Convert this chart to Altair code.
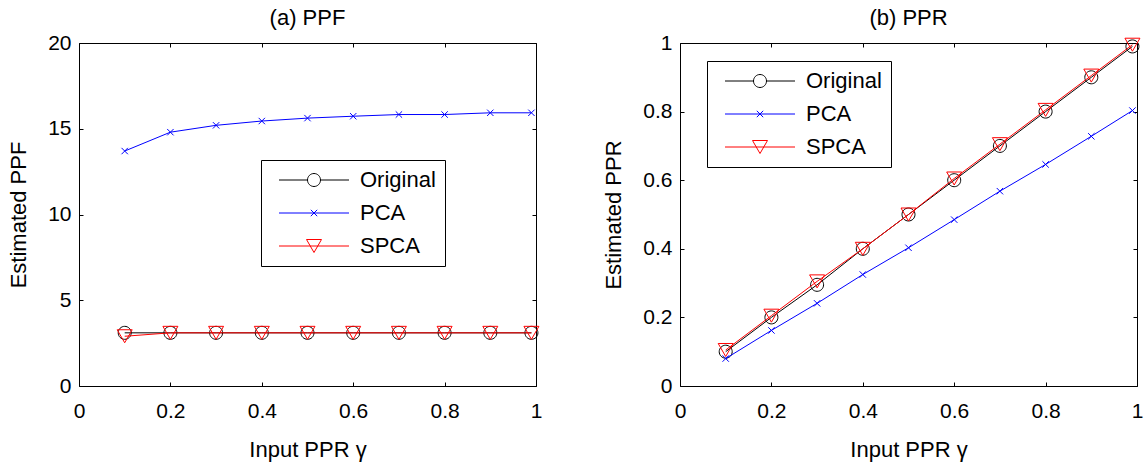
import altair as alt
import pandas as pd

FONT = "Liberation Sans"

x_input = [0.1, 0.2, 0.3, 0.4, 0.5, 0.6, 0.7, 0.8, 0.9, 0.99]
series_names = ["Original", "PCA", "SPCA"]
series_colors = ["#000000", "#0000FF", "#FF0000"]

# (a) PPF
ppf_original = [3.1, 3.1, 3.1, 3.1, 3.1, 3.1, 3.1, 3.1, 3.1, 3.1]
ppf_pca = [13.7, 14.8, 15.2, 15.45, 15.62, 15.73, 15.83, 15.83, 15.93, 15.93]
ppf_spca = [2.9, 3.1, 3.1, 3.1, 3.1, 3.1, 3.1, 3.1, 3.1, 3.1]

# (b) PPR
ppr_original = [0.10, 0.20, 0.295, 0.40, 0.50, 0.60, 0.70, 0.80, 0.90, 0.99]
ppr_pca = [0.08, 0.162, 0.241, 0.325, 0.403, 0.485, 0.568, 0.646, 0.728, 0.803]
ppr_spca = [0.105, 0.205, 0.305, 0.40, 0.50, 0.605, 0.705, 0.805, 0.905, 0.995]

x_ticks = [0, 0.2, 0.4, 0.6, 0.8, 1]
ppf_ticks = [0, 5, 10, 15, 20]
ppr_ticks = [0, 0.2, 0.4, 0.6, 0.8, 1]

# marker glyphs (unit = 10 px at size 400)
circle_path = "M-0.65,0A0.65,0.65,0,1,1,0.65,0A0.65,0.65,0,1,1,-0.65,0Z"
cross_path = "M-0.32,-0.32L0.32,0.32M-0.32,0.32L0.32,-0.32"
tri_path = "M0,0.65L0.75,-0.65L-0.75,-0.65Z"
marker_paths = [circle_path, cross_path, tri_path]

legend_paths = [
    "M-3.5,0L-0.65,0M-0.65,0A0.65,0.65,0,1,1,0.65,0A0.65,0.65,0,1,1,-0.65,0M0.65,0L3.5,0",
    "M-3.5,0L3.5,0M-0.32,-0.32L0.32,0.32M-0.32,0.32L0.32,-0.32",
    "M-3.5,0L3.5,0M0,0.65L0.75,-0.65L-0.75,-0.65Z",
]


def make_df(orig, pca, spca):
    rows = []
    for name, vals in zip(series_names, [orig, pca, spca]):
        for x, y in zip(x_input, vals):
            rows.append({"x": x, "y": y, "series": name})
    return pd.DataFrame(rows)


def axis(orient, values, title=None, labels=True, label_padding=8, title_padding=10):
    return alt.Axis(
        orient=orient,
        values=values,
        labels=labels,
        tickSize=4,
        tickWidth=1,
        tickColor="black",
        domain=False,
        grid=False,
        offset=-4,
        labelFlush=False,
        labelFont=FONT,
        labelFontSize=21,
        labelColor="black",
        labelPadding=label_padding,
        format="~g",
        title=title,
        titleFont=FONT,
        titleFontSize=22,
        titleFontWeight="normal",
        titleColor="black",
        titlePadding=title_padding,
    )


def panel(df, title, ytitle, ydomain, yticks, lx, ly):
    xs = alt.Scale(domain=[0, 1], nice=False, zero=False)
    ys = alt.Scale(domain=ydomain, nice=False, zero=False)
    color_scale = alt.Scale(domain=series_names, range=series_colors)
    legend = alt.Legend(
        orient="none",
        legendX=lx,
        legendY=ly,
        title=None,
        direction="vertical",
        labelFont=FONT,
        labelFontSize=22,
        labelColor="black",
        symbolSize=400,
        symbolStrokeWidth=1,
        symbolOpacity=1,
        symbolOffset=33,
        labelOffset=35,
        rowPadding=11,
        padding=9,
        strokeColor="black",
        fillColor="white",
    )
    base = alt.Chart(df)
    layers = []
    for i, (name, col, path) in enumerate(zip(series_names, series_colors, marker_paths)):
        sub = base.transform_filter(alt.datum.series == name)
        if i == 0:
            xenc = alt.X("x:Q", scale=xs, axis=axis("bottom", x_ticks, "Input PPR γ", label_padding=14, title_padding=18))
            yenc = alt.Y("y:Q", scale=ys, axis=axis("left", yticks, ytitle, label_padding=8, title_padding=17))
        else:
            xenc = alt.X("x:Q", scale=xs, axis=None)
            yenc = alt.Y("y:Q", scale=ys, axis=None)
        layers.append(sub.mark_line(strokeWidth=1, color=col).encode(x=xenc, y=yenc))
        layers.append(
            sub.mark_point(shape=path, filled=False, size=400, strokeWidth=1, color=col, opacity=1).encode(
                x=alt.X("x:Q", scale=xs, axis=None), y=alt.Y("y:Q", scale=ys, axis=None)
            )
        )
    # invisible layer carrying the mirrored (top/right) tick axes and the legend
    mirror = base.mark_point(opacity=0, filled=False, size=1).encode(
        x=alt.X("x:Q", scale=xs, axis=axis("top", x_ticks, labels=False)),
        y=alt.Y("y:Q", scale=ys, axis=axis("right", yticks, labels=False)),
        color=alt.Color("series:N", scale=color_scale, legend=legend),
        shape=alt.Shape("series:N", scale=alt.Scale(domain=series_names, range=legend_paths), legend=legend),
    )
    layers.append(mirror)
    return (
        alt.layer(*layers)
        .resolve_axis(x="independent", y="independent")
        .properties(
            width=457,
            height=343,
            title=alt.TitleParams(
                title, font=FONT, fontSize=22, fontWeight="normal", color="black", offset=2, anchor="middle"
            ),
        )
    )


left = panel(make_df(ppf_original, ppf_pca, ppf_spca), "(a) PPF", "Estimated PPF", [0, 20], ppf_ticks, 182, 117)
right = panel(make_df(ppr_original, ppr_pca, ppr_spca), "(b) PPR", "Estimated PPR", [0, 1], ppr_ticks, 27, 18)

chart = (
    alt.hconcat(left, right, spacing=144, bounds="flush")
    .resolve_scale(color="independent", shape="independent")
    .configure_view(stroke="black", strokeWidth=1)
    .properties(padding={"left": 7, "top": 6, "right": 0, "bottom": 2}, background="white")
)

chart.save("out.html", embed_options={"renderer": "svg", "actions": False})
